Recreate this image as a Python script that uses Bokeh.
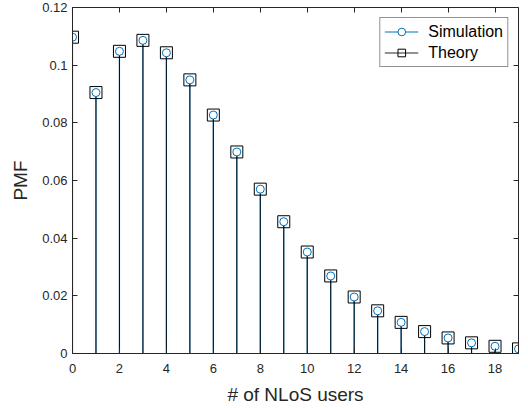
from bokeh.plotting import figure
from bokeh.models import (Range1d, LinearAxis, FixedTicker, CustomJSTickFormatter,
                          Legend, LegendItem, ColumnDataSource)
from bokeh.embed import file_html
from bokeh.resources import INLINE

n_users = [0, 1, 2, 3, 4, 5, 6, 7, 8, 9, 10, 11, 12, 13, 14, 15, 16, 17, 18, 19]
sim_pmf = [0.1097, 0.0905, 0.1048, 0.1086, 0.1043, 0.0949, 0.0827, 0.0699, 0.0570, 0.0457,
           0.0352, 0.0269, 0.0196, 0.0148, 0.0108, 0.0076, 0.0054, 0.0037, 0.0025, 0.0016]
theory_pmf = [0.1097, 0.0905, 0.1048, 0.1086, 0.1043, 0.0949, 0.0827, 0.0699, 0.0570, 0.0457,
              0.0352, 0.0269, 0.0196, 0.0148, 0.0108, 0.0076, 0.0054, 0.0037, 0.0025, 0.0016]
x_ticks = [0, 2, 4, 6, 8, 10, 12, 14, 16, 18]
y_ticks = [0, 0.02, 0.04, 0.06, 0.08, 0.1, 0.12]

FONT = "Liberation Sans"
AX = "#262626"
BLUE = "#0072BD"

sim_src = ColumnDataSource(dict(x=n_users, y=sim_pmf, y0=[0] * len(n_users)))
th_src = ColumnDataSource(dict(x=n_users, y=theory_pmf, y0=[0] * len(n_users)))

p = figure(width=528, height=408, x_range=Range1d(0, 19), y_range=Range1d(0, 0.12),
           output_backend="svg", toolbar_location=None,
           min_border_left=72, min_border_right=10, min_border_top=7, min_border_bottom=55)
p.xgrid.visible = False
p.ygrid.visible = False
p.outline_line_color = None
p.background_fill_color = "white"

sim_seg = p.segment(x0="x", y0="y0", x1="x", y1="y", source=sim_src, line_color=BLUE, line_width=1.2)
th_seg = p.segment(x0="x", y0="y0", x1="x", y1="y", source=th_src, line_color="black",
                   line_width=1, line_alpha=0.85)
th_pts = p.scatter(x="x", y="y", source=th_src, marker="square", size=12,
                   line_color="black", line_width=1, fill_color=None)
sim_pts = p.scatter(x="x", y="y", source=sim_src, marker="circle", size=8,
                    line_color=BLUE, line_width=1, fill_color="white")

fmt = CustomJSTickFormatter(code="return Number(tick.toFixed(3)).toString();")
blank = CustomJSTickFormatter(code="return '';")

def style_axis(ax, ticks, labels=True):
    ax.ticker = FixedTicker(ticks=ticks)
    ax.major_tick_in = 5
    ax.major_tick_out = 0
    ax.minor_tick_in = 0
    ax.minor_tick_out = 0
    ax.axis_line_color = AX
    ax.major_tick_line_color = AX
    ax.major_label_text_color = AX
    ax.major_label_text_font = FONT
    ax.major_label_text_font_size = "13px"
    if not labels:
        ax.formatter = blank
        ax.major_label_standoff = 0

style_axis(p.xaxis[0], x_ticks)
style_axis(p.yaxis[0], y_ticks)
p.xaxis[0].major_label_standoff = 10
p.yaxis[0].major_label_standoff = 5
p.yaxis[0].formatter = fmt

p.xaxis[0].axis_label = "# of NLoS users"
p.yaxis[0].axis_label = "PMF"
for ax in (p.xaxis[0], p.yaxis[0]):
    ax.axis_label_text_font = FONT
    ax.axis_label_text_font_size = "19px"
    ax.axis_label_text_font_style = "normal"
    ax.axis_label_text_color = AX
p.xaxis[0].axis_label_standoff = 8
p.yaxis[0].axis_label_standoff = 8

top = LinearAxis()
style_axis(top, x_ticks, labels=False)
p.add_layout(top, "above")
right = LinearAxis()
style_axis(right, y_ticks, labels=False)
p.add_layout(right, "right")

legend = Legend(items=[LegendItem(label="Simulation", renderers=[sim_seg, sim_pts]),
                       LegendItem(label="Theory", renderers=[th_seg, th_pts])],
                location="top_right", margin=10, padding=4, spacing=2,
                glyph_width=34, glyph_height=19, label_height=19, label_standoff=10,
                label_text_font=FONT, label_text_font_size="16px", label_text_color="black",
                border_line_color=AX, border_line_width=1, background_fill_alpha=1)
p.add_layout(legend)

open("out.html", "w").write(file_html(p, INLINE))
